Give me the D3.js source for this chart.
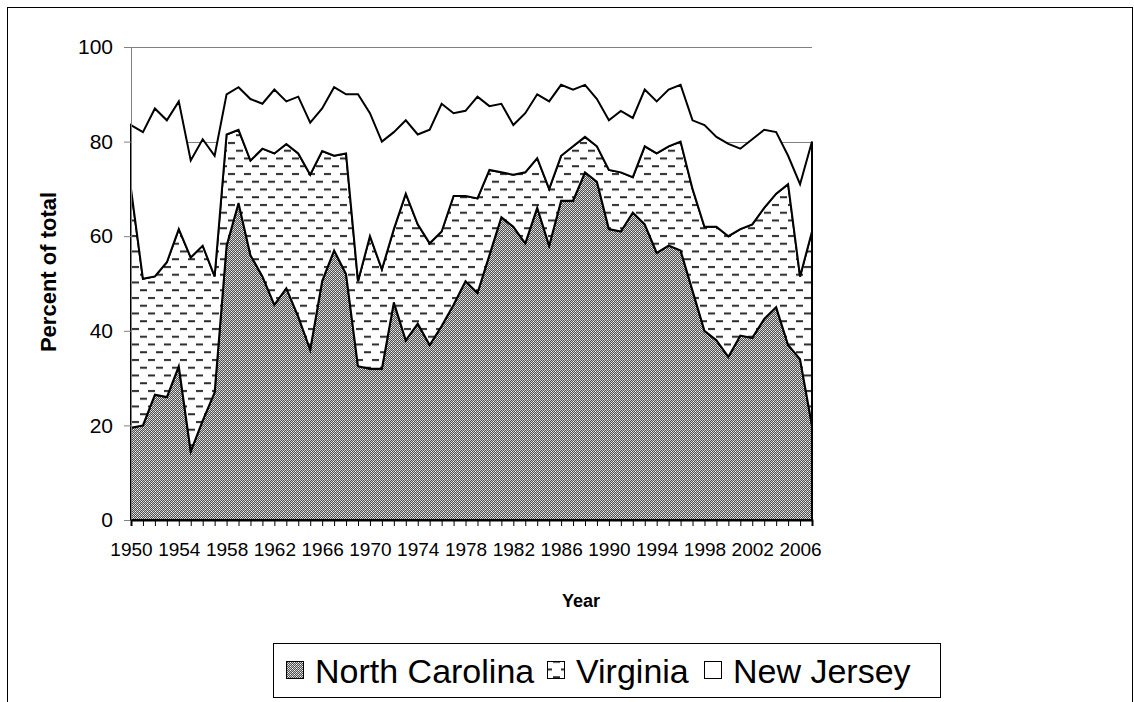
<!DOCTYPE html>
<html>
<head>
<meta charset="utf-8">
<script src="https://cdn.jsdelivr.net/npm/d3@7"></script>
<style>
  body { margin: 0; background: #fff; }
  text { font-family: "Liberation Sans", Arial, sans-serif; }
</style>
</head>
<body>
<div id="chart"></div>
<script>
// years 1950..2007
let years = d3.range(1950, 2008);
let northCarolina = [19.5, 20, 26.5, 26, 32.5, 14.5, 21, 27, 58, 67,
    56, 51.5, 45.5, 49, 43, 36, 50.5, 57, 52, 32.5,
    32, 32, 46, 38, 41.5, 37, 41, 45.5, 50.5, 48,
    56, 64, 62, 58.5, 66, 58, 67.5, 67.5, 73.5, 71.5,
    61.5, 61, 65, 62.5, 56.5, 58, 57, 48.5, 40, 38,
    34.5, 39, 38.5, 42.5, 45, 37, 34, 20];
let virginia = [50.5, 31, 25, 28.5, 29, 41, 37, 24.5, 23.5, 15.5,
    20, 27, 32, 30.5, 34.5, 37, 27.5, 20, 25.5, 18,
    28, 21, 15.5, 31, 21, 21.5, 20, 23, 18, 20,
    18, 9.5, 11, 15, 10.5, 12, 9.5, 11.5, 7.5, 7.5,
    12.5, 12.5, 7.5, 16.5, 21, 21, 23, 21.5, 22, 24,
    25.5, 22.5, 24, 23.5, 24, 34, 17.5, 41];
let newJersey = [13.5, 31, 35.5, 30, 27, 20.5, 22.5, 25.5, 8.5, 9,
    13, 9.5, 13.5, 9, 12, 11, 9, 14.5, 12.5, 39.5,
    26, 27, 20.5, 15.5, 19, 24, 27, 17.5, 18, 21.5,
    13.5, 14.5, 10.5, 12.5, 13.5, 18.5, 15, 12, 11, 10,
    10.5, 13, 12.5, 12, 11, 12, 12, 14.5, 21.5, 19,
    19.5, 17, 18, 16.5, 13, 6, 19.5, 19];
let seriesNames = ["North Carolina", "Virginia", "New Jersey"];
let yTicks = [0, 20, 40, 60, 80, 100];

let rows = years.map(function(y, i) {
    return {year: y, "North Carolina": northCarolina[i], "Virginia": virginia[i], "New Jersey": newJersey[i]};
});

let W = 1134, H = 702;
let margin = {top: 47, right: 322, bottom: 182, left: 131};

let svg = d3.select("#chart").append("svg")
    .attr("width", W)
    .attr("height", H);

// patterns
let defs = svg.append("defs");
let pNC = defs.append("pattern")
    .attr("id", "pat-nc")
    .attr("patternUnits", "userSpaceOnUse")
    .attr("width", 4).attr("height", 4);
pNC.append("rect").attr("width", 4).attr("height", 4).attr("fill", "#c8c8c8");
// dark checker cells
[[1, 0], [3, 0], [0, 1], [2, 1], [1, 2], [3, 2], [0, 3], [2, 3]].forEach(function(p) {
    pNC.append("rect").attr("x", p[0]).attr("y", p[1]).attr("width", 1).attr("height", 1).attr("fill", "#505050");
});
[[0, 0], [2, 2]].forEach(function(p) {
    pNC.append("rect").attr("x", p[0]).attr("y", p[1]).attr("width", 1).attr("height", 1).attr("fill", "#ffffff");
});

let pVA = defs.append("pattern")
    .attr("id", "pat-va")
    .attr("patternUnits", "userSpaceOnUse")
    .attr("width", 16).attr("height", 15.5);
pVA.append("rect").attr("width", 16).attr("height", 15.5).attr("fill", "#fff");
pVA.append("rect").attr("x", 1).attr("y", 2).attr("width", 7).attr("height", 2).attr("fill", "#2a2a2a");
pVA.append("rect").attr("x", 9).attr("y", 9.75).attr("width", 7).attr("height", 2).attr("fill", "#2a2a2a");

let fills = {"North Carolina": "url(#pat-nc)", "Virginia": "url(#pat-va)", "New Jersey": "#ffffff"};

// outer frame
svg.append("rect")
    .attr("x", 7.5).attr("y", 7.5)
    .attr("width", 1125).attr("height", 760)
    .attr("fill", "none")
    .attr("stroke", "#000")
    .attr("stroke-width", 1);

let width = W - margin.left - margin.right;
let height = H - margin.top - margin.bottom;

let g = svg.append("g")
    .attr("transform", "translate(" + margin.left + "," + margin.top + ")");

let x = d3.scaleLinear()
    .domain([1950, 2007])
    .range([0, width]);
let y = d3.scaleLinear()
    .domain([0, 100])
    .range([height, 0]);

// gridlines
g.selectAll(".grid")
    .data(yTicks.slice(1))
    .enter().append("line")
    .attr("x1", 0).attr("x2", width)
    .attr("y1", function(d) { return Math.round(y(d)) + 0.5; })
    .attr("y2", function(d) { return Math.round(y(d)) + 0.5; })
    .attr("stroke", "#808080")
    .attr("stroke-width", 1);

let stack = d3.stack().keys(seriesNames);
let layers = stack(rows);

let area = d3.area()
    .x(function(d) { return x(d.data.year); })
    .y0(function(d) { return y(d[0]); })
    .y1(function(d) { return y(d[1]); });

g.selectAll(".layer")
    .data(layers)
    .enter().append("path")
    .attr("d", area)
    .attr("fill", function(d) { return fills[d.key]; })
    .attr("stroke", "#000")
    .attr("stroke-width", 2)
    .attr("stroke-linejoin", "miter");

// y axis
let yAxis = g.append("g")
    .call(d3.axisLeft(y).tickValues(yTicks).tickSize(7).tickPadding(11));
yAxis.select(".domain").attr("stroke", "#808080");
yAxis.selectAll(".tick line").attr("stroke", "#808080");
yAxis.selectAll("text")
    .style("font-family", "Liberation Sans, Arial, sans-serif")
    .style("font-size", "21px")
    .attr("fill", "#000");

// x axis
let xAxis = g.append("g")
    .attr("transform", "translate(0," + height + ")")
    .call(d3.axisBottom(x).tickValues(years).tickSize(6).tickPadding(17)
        .tickFormat(function(d) { return (d - 1950) % 4 === 0 ? d : ""; }));
xAxis.select(".domain").attr("stroke", "#000").attr("stroke-width", 2);
xAxis.selectAll(".tick line").attr("stroke", "#000");
xAxis.selectAll("text")
    .style("font-family", "Liberation Sans, Arial, sans-serif")
    .style("font-size", "19px")
    .attr("fill", "#000");

// axis titles
svg.append("text")
    .attr("x", 581)
    .attr("y", 607)
    .attr("text-anchor", "middle")
    .style("font-size", "18px")
    .style("font-weight", "bold")
    .text("Year");
svg.append("text")
    .attr("transform", "translate(56," + 272 + ") rotate(-90)")
    .attr("text-anchor", "middle")
    .style("font-size", "22px")
    .style("font-weight", "bold")
    .text("Percent of total");

// legend
let legend = svg.append("g");
legend.append("rect")
    .attr("x", 273.5).attr("y", 643.5)
    .attr("width", 667).attr("height", 54)
    .attr("fill", "#fff")
    .attr("stroke", "#000")
    .attr("stroke-width", 1);
let legendX = [286, 547, 704];
seriesNames.forEach(function(name, i) {
    legend.append("rect")
        .attr("x", legendX[i] + 0.5).attr("y", 661.5)
        .attr("width", 17).attr("height", 17)
        .attr("fill", fills[name])
        .attr("stroke", "#000")
        .attr("stroke-width", 1);
    legend.append("text")
        .attr("x", legendX[i] + 29)
        .attr("y", 683)
        .style("font-size", "34px")
        .text(name);
});
</script>
</body>
</html>
